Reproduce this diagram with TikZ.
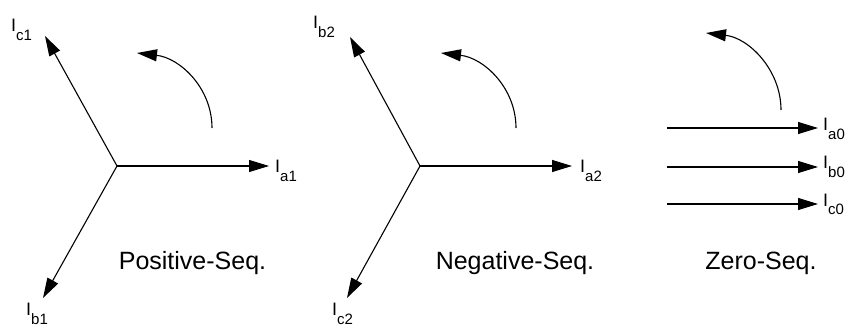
\documentclass[tikz,border=0pt]{standalone}
\usepackage{fontspec}
\setmainfont{Liberation Sans}
\usetikzlibrary{arrows.meta}
\newcommand{\phasor}[2]{I\raisebox{-9pt}{\fontsize{15}{17}\selectfont #1#2}}
\begin{document}
\begin{tikzpicture}[x=1pt,y=-1pt,
  vec/.style={line width=1.1pt,-{Triangle[length=20pt,width=12pt]}},
  rot/.style={line width=1.1pt,-{Triangle[length=20pt,width=12pt]}},
  lbl/.style={anchor=base west,inner sep=0pt,font=\fontsize{18}{20}\selectfont},
  title/.style={anchor=base,inner sep=0pt,font=\fontsize{25}{28}\selectfont}]
\useasboundingbox (0,0) rectangle (856,331);
% Positive sequence
\coordinate (O1) at (117,166);
\coordinate (A1) at (269,166);
\coordinate (C1) at (45,36);
\coordinate (B1) at (43,298);
\draw[vec] (O1) -- (A1);
\draw[vec] (O1) -- (C1);
\draw[vec] (O1) -- (B1);
\node[lbl] (la1) at (275,173) {\phasor{a}{1}};
\node[lbl] (lc1) at (11,32) {\phasor{c}{1}};
\node[lbl] (lb1) at (26,315) {\phasor{b}{1}};
\coordinate (S1) at (212,128);
\coordinate (E1) at (137,53);
\draw[rot] (S1) .. controls (212,88) and (180,58) .. (E1);
\node[title] (t1) at (192.5,269) {Positive-Seq.};
% Negative sequence
\coordinate (O2) at (420,166);
\coordinate (A2) at (572,166);
\coordinate (B2) at (350,37);
\coordinate (C2) at (347,298);
\draw[vec] (O2) -- (A2);
\draw[vec] (O2) -- (B2);
\draw[vec] (O2) -- (C2);
\node[lbl] (la2) at (580,173) {\phasor{a}{2}};
\node[lbl] (lb2) at (313,29) {\phasor{b}{2}};
\node[lbl] (lc2) at (332,315) {\phasor{c}{2}};
\coordinate (S2) at (516,128);
\coordinate (E2) at (441,53);
\draw[rot] (S2) .. controls (516,88) and (484,58) .. (E2);
\node[title] (t2) at (515,269) {Negative-Seq.};
% Zero sequence
\coordinate (Za) at (667,128);
\coordinate (Zat) at (818,128);
\coordinate (Zb) at (667,167);
\coordinate (Zbt) at (818,167);
\coordinate (Zc) at (667,204);
\coordinate (Zct) at (818,204);
\draw[vec] (Za) -- (Zat);
\draw[vec] (Zb) -- (Zbt);
\draw[vec] (Zc) -- (Zct);
\node[lbl] (la0) at (823,131) {\phasor{a}{0}};
\node[lbl] (lb0) at (823,169) {\phasor{b}{0}};
\node[lbl] (lc0) at (823,206) {\phasor{c}{0}};
\coordinate (S0) at (781,110);
\coordinate (E0) at (706,33);
\draw[rot] (S0) .. controls (781,70) and (749,38) .. (E0);
\node[title] (t0) at (761,269) {Zero-Seq.};
\end{tikzpicture}
\end{document}
